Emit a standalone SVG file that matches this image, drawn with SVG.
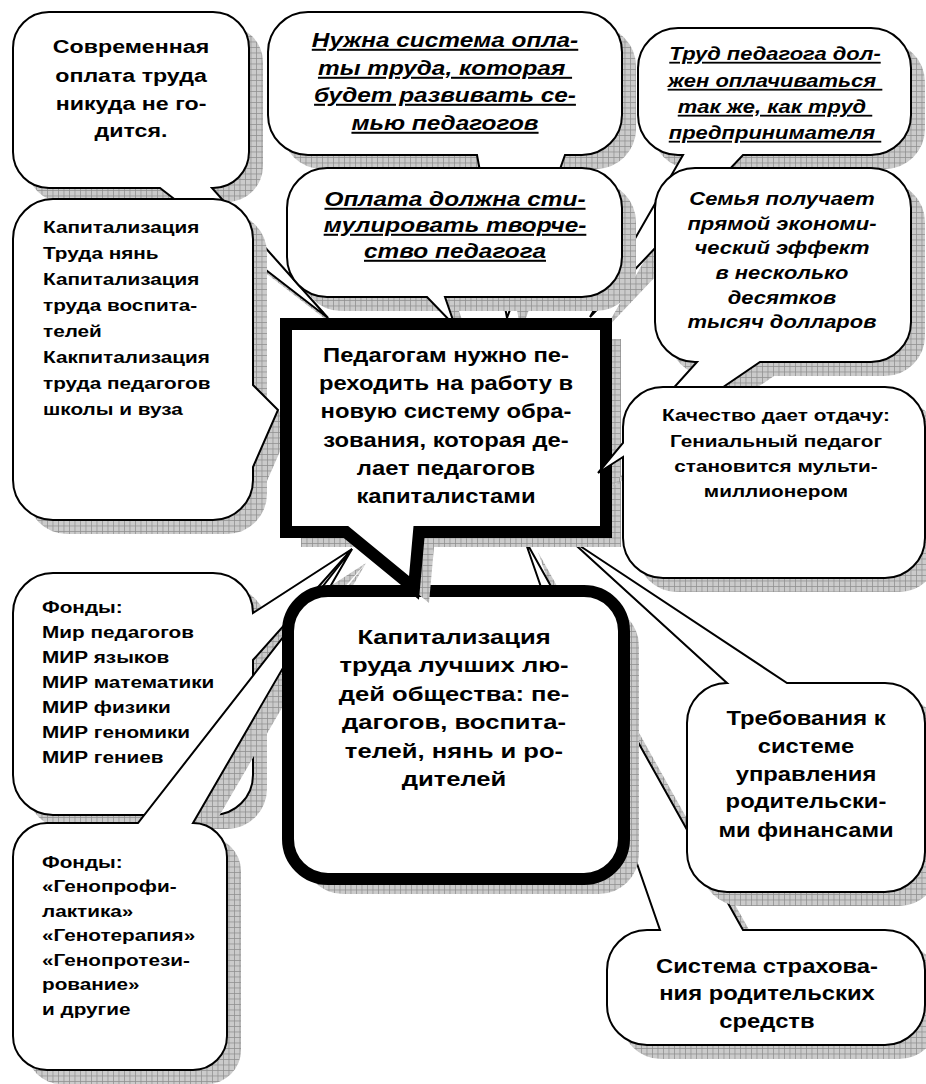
<svg xmlns="http://www.w3.org/2000/svg" xmlns:xlink="http://www.w3.org/1999/xlink" width="926" height="1084" viewBox="0 0 926 1084">
<style>
.t{font-family:"Liberation Sans",Arial,sans-serif;font-weight:bold;fill:#000}
.i{font-style:italic}
.u{text-decoration:underline}
.bx{fill:#fff;stroke:#000;stroke-width:2;stroke-linejoin:miter}
.thick{stroke-width:12}
.sh{fill:url(#grid);stroke:none}
</style>
<defs>
<pattern id="grid" width="5.5" height="5.5" patternUnits="userSpaceOnUse">
<rect width="5.5" height="5.5" fill="#cbcbcb"/>
<path d="M0,0.4H5.5M0.4,0V5.5" stroke="#8f8f8f" stroke-width="0.8"/>
</pattern>
<path id="pA" d="M49,12 H213 A36,36 0 0 1 249,48 V152 A36,36 0 0 1 213,188 L212,188 L328,318 L160,188 H49 A36,36 0 0 1 13,152 V48 A36,36 0 0 1 49,12 Z"/>
<path id="pC" d="M308,12 H582 A40,40 0 0 1 622,52 V115 A40,40 0 0 1 582,155 H565 L507,318 L477,155 H308 A40,40 0 0 1 268,115 V52 A40,40 0 0 1 308,12 Z"/>
<path id="pE" d="M678,28 H871 A40,40 0 0 1 911,68 V115 A40,40 0 0 1 871,155 H743 L590,317 L683,155 H678 A40,40 0 0 1 638,115 V68 A40,40 0 0 1 678,28 Z"/>
<path id="pB" d="M53,199 H213 A40,40 0 0 1 253,239 V385 L278,410 L253,467 V480 A40,40 0 0 1 213,520 H53 A40,40 0 0 1 13,480 V239 A40,40 0 0 1 53,199 Z"/>
<path id="pD" d="M327,168 H582 A40,40 0 0 1 622,208 V257 A40,40 0 0 1 582,297 H445 L455,326 L427,297 H327 A40,40 0 0 1 287,257 V208 A40,40 0 0 1 327,168 Z"/>
<path id="pF" d="M695,168 H871 A40,40 0 0 1 911,208 V322 A40,40 0 0 1 871,362 H760 L597,473 L697,362 H695 A40,40 0 0 1 655,322 V208 A40,40 0 0 1 695,168 Z"/>
<path id="pK" d="M53,573 H213 A40,40 0 0 1 253,613 L352,549 L253,660 V775 A40,40 0 0 1 213,815 H53 A40,40 0 0 1 13,775 V613 A40,40 0 0 1 53,573 Z"/>
<path id="pM" d="M47,823 H138 L352,549 L193,823 A34,34 0 0 1 227,857 V1036 A34,34 0 0 1 193,1070 H47 A34,34 0 0 1 13,1036 V857 A34,34 0 0 1 47,823 Z"/>
<path id="pJ" d="M647,930 H660 L524,538 L743,930 H885 A40,40 0 0 1 925,970 V1005 A40,40 0 0 1 885,1045 H647 A40,40 0 0 1 607,1005 V970 A40,40 0 0 1 647,930 Z"/>
<path id="pI" d="M727,683 L568,538 L787,683 H885 A40,40 0 0 1 925,723 V852 A40,40 0 0 1 885,892 H727 A40,40 0 0 1 687,852 V723 A40,40 0 0 1 727,683 Z"/>
<rect id="pH" x="288" y="591" width="336" height="288" rx="40" ry="40"/>
<path id="pX" d="M286,324 H606 V532 H419 L414,588 L346,532 H286 Z"/>
<path id="pG" d="M663,387 H885 A40,40 0 0 1 925,427 V538 A40,40 0 0 1 885,578 H663 A40,40 0 0 1 623,538 V457 L598,473 L623,443 V427 A40,40 0 0 1 663,387 Z"/>
</defs>

<g id="n-sovremennaya">
<use xlink:href="#pA" class="sh" transform="translate(14 14)"/>
<use xlink:href="#pA" class="bx"/>
<g transform="translate(131 0) scale(1.22 1)">
<text class="t" font-size="19" text-anchor="middle"><tspan x="0" y="53">Современная</tspan><tspan x="0" y="82">оплата труда</tspan><tspan x="0" y="110">никуда не го-</tspan><tspan x="0" y="137">дится.</tspan></text>
</g>
</g>

<g id="n-nuzhna">
<use xlink:href="#pC" class="sh" transform="translate(14 14)"/>
<use xlink:href="#pC" class="bx"/>
<g transform="translate(445 0) scale(1.22 1)">
<text class="t i u" font-size="20" text-anchor="middle" xml:space="preserve"><tspan x="0" y="47">Нужна система опла-</tspan><tspan x="0" y="75">ты труда, которая&#160;</tspan><tspan x="0" y="102">будет развивать се-</tspan><tspan x="0" y="130">мью педагогов</tspan></text>
</g>
</g>

<g id="n-trud">
<use xlink:href="#pE" class="sh" transform="translate(14 14)"/>
<use xlink:href="#pE" class="bx"/>
<g transform="translate(775 0) scale(1.22 1)">
<text class="t i u" font-size="18" text-anchor="middle" xml:space="preserve"><tspan x="0" y="60">Труд педагога дол-</tspan><tspan x="0" y="87">жен оплачиваться&#160;</tspan><tspan x="0" y="113">так же, как труд&#160;</tspan><tspan x="0" y="139">предпринимателя&#160;</tspan></text>
</g>
</g>

<g id="n-kapitalizaciya-nyan">
<use xlink:href="#pB" class="sh" transform="translate(14 14)"/>
<use xlink:href="#pB" class="bx"/>
<g transform="translate(43 0) scale(1.22 1)">
<text class="t" font-size="17"><tspan x="0" y="233">Капитализация</tspan><tspan x="0" y="259">Труда нянь</tspan><tspan x="0" y="285">Капитализация</tspan><tspan x="0" y="311">труда воспита-</tspan><tspan x="0" y="337">телей</tspan><tspan x="0" y="363">Какпитализация</tspan><tspan x="0" y="389">труда педагогов</tspan><tspan x="0" y="415">школы и вуза</tspan></text>
</g>
</g>

<g id="n-oplata">
<use xlink:href="#pD" class="sh" transform="translate(14 14)"/>
<use xlink:href="#pD" class="bx"/>
<g transform="translate(455 0) scale(1.22 1)">
<text class="t i u" font-size="20" text-anchor="middle"><tspan x="0" y="206">Оплата должна сти-</tspan><tspan x="0" y="232">мулировать творче-</tspan><tspan x="0" y="258">ство педагога</tspan></text>
</g>
</g>

<g id="n-semya">
<use xlink:href="#pF" class="sh" transform="translate(14 14)"/>
<use xlink:href="#pF" class="bx"/>
<g transform="translate(782 0) scale(1.22 1)">
<text class="t i" font-size="18" text-anchor="middle"><tspan x="0" y="205">Семья получает</tspan><tspan x="0" y="230">прямой экономи-</tspan><tspan x="0" y="254">ческий эффект</tspan><tspan x="0" y="279">в несколько</tspan><tspan x="0" y="304">десятков</tspan><tspan x="0" y="328">тысяч долларов</tspan></text>
</g>
</g>

<g id="n-fondy-mir">
<use xlink:href="#pK" class="sh" transform="translate(14 14)"/>
<use xlink:href="#pK" class="bx"/>
<g transform="translate(42 0) scale(1.22 1)">
<text class="t" font-size="17"><tspan x="0" y="613">Фонды:</tspan><tspan x="0" y="638">Мир педагогов</tspan><tspan x="0" y="663">МИР языков</tspan><tspan x="0" y="688">МИР математики</tspan><tspan x="0" y="713">МИР физики</tspan><tspan x="0" y="738">МИР геномики</tspan><tspan x="0" y="763">МИР гениев</tspan></text>
</g>
</g>

<g id="n-fondy-geno">
<use xlink:href="#pM" class="sh" transform="translate(14 14)"/>
<use xlink:href="#pM" class="bx"/>
<g transform="translate(42 0) scale(1.22 1)">
<text class="t" font-size="17"><tspan x="0" y="868">Фонды:</tspan><tspan x="0" y="892">«Генопрофи-</tspan><tspan x="0" y="917">лактика»</tspan><tspan x="0" y="941">«Генотерапия»</tspan><tspan x="0" y="966">«Генопротези-</tspan><tspan x="0" y="990">рование»</tspan><tspan x="0" y="1015">и другие</tspan></text>
</g>
</g>

<g id="n-strahovanie">
<use xlink:href="#pJ" class="sh" transform="translate(14 14)"/>
<use xlink:href="#pJ" class="bx"/>
<g transform="translate(767 0) scale(1.22 1)">
<text class="t" font-size="19.5" text-anchor="middle"><tspan x="0" y="973">Система страхова-</tspan><tspan x="0" y="1000">ния родительских</tspan><tspan x="0" y="1028">средств</tspan></text>
</g>
</g>

<g id="n-trebovaniya">
<use xlink:href="#pI" class="sh" transform="translate(14 14)"/>
<use xlink:href="#pI" class="bx"/>
<g transform="translate(806 0) scale(1.22 1)">
<text class="t" font-size="19.5" text-anchor="middle"><tspan x="0" y="725">Требования к</tspan><tspan x="0" y="753">системе</tspan><tspan x="0" y="781">управления</tspan><tspan x="0" y="808">родительски-</tspan><tspan x="0" y="837">ми финансами</tspan></text>
</g>
</g>

<g id="n-kapitalizaciya-luchshih">
<use xlink:href="#pH" class="sh" transform="translate(15 15)"/>
<use xlink:href="#pH" class="bx thick"/>
<g transform="translate(454 0) scale(1.22 1)">
<text class="t" font-size="21" text-anchor="middle"><tspan x="0" y="644">Капитализация</tspan><tspan x="0" y="672">труда лучших лю-</tspan><tspan x="0" y="701">дей общества: пе-</tspan><tspan x="0" y="729">дагогов, воспита-</tspan><tspan x="0" y="758">телей, нянь и ро-</tspan><tspan x="0" y="786">дителей</tspan></text>
</g>
</g>

<g id="n-pedagogam">
<use xlink:href="#pX" class="sh" transform="translate(15 15)"/>
<use xlink:href="#pX" class="bx thick"/>
<g transform="translate(446 0) scale(1.22 1)">
<text class="t" font-size="19.5" text-anchor="middle"><tspan x="0" y="362">Педагогам нужно пе-</tspan><tspan x="0" y="390">реходить на работу в</tspan><tspan x="0" y="418">новую систему обра-</tspan><tspan x="0" y="447">зования, которая де-</tspan><tspan x="0" y="475">лает педагогов</tspan><tspan x="0" y="503">капиталистами</tspan></text>
</g>
</g>

<g id="n-kachestvo">
<use xlink:href="#pG" class="sh" transform="translate(14 14)"/>
<use xlink:href="#pG" class="bx"/>
<g transform="translate(776 0) scale(1.22 1)">
<text class="t" font-size="17" text-anchor="middle"><tspan x="0" y="421">Качество дает отдачу:</tspan><tspan x="0" y="447">Гениальный педагог</tspan><tspan x="0" y="472">становится мульти-</tspan><tspan x="0" y="497">миллионером</tspan></text>
</g>
</g>
</svg>
